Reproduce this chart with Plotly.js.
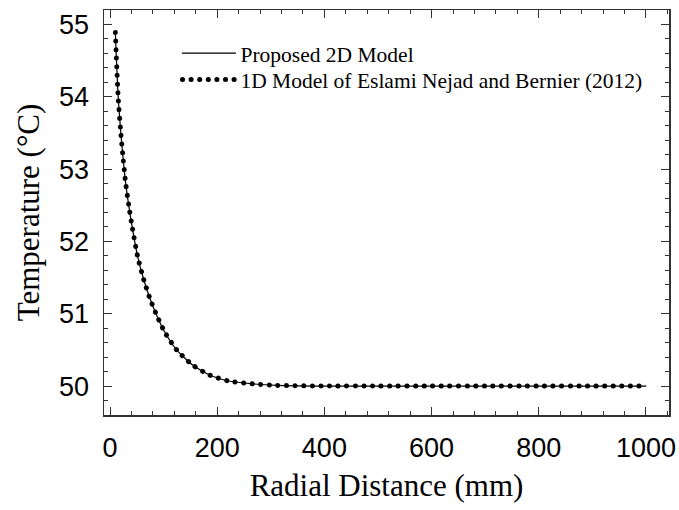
<!DOCTYPE html>
<html>
<head>
<meta charset="utf-8">
<script src="https://cdn.plot.ly/plotly-3.0.1.min.js"></script>
<style>
  html, body { margin: 0; padding: 0; background: #fff; }
  #chart { width: 679px; height: 510px; }
  .js-line { stroke-linecap: round !important; }
</style>
</head>
<body>
<div id="chart"></div>
<script>
// Radial distance (mm)
const radius2D = [10, 11.8, 15.5, 20.5, 24.8, 29.3, 34.9, 40.5, 51, 63.4, 74.6, 87.1, 102.6, 124.4, 154.3, 186.6, 220.7, 267, 311, 400, 500, 600, 700, 800, 900, 1000];
// Temperature (°C), proposed 2D model
const temp2D = [54.89, 54.55, 53.96, 53.47, 53.12, 52.80, 52.50, 52.24, 51.81, 51.46, 51.21, 50.98, 50.74, 50.50, 50.29, 50.15, 50.07, 50.03, 50.01, 50.0, 50.0, 50.0, 50.0, 50.0, 50.0, 50.0];
// 1D model of Eslami Nejad and Bernier (2012)
const radius1D = [10, 11.8, 15.5, 20.5, 24.8, 29.3, 34.9, 40.5, 51, 63.4, 74.6, 87.1, 102.6, 124.4, 154.3, 186.6, 220.7, 267, 311, 400, 500, 600, 700, 800, 900, 1000];
const temp1D = [54.89, 54.55, 53.96, 53.47, 53.12, 52.80, 52.50, 52.24, 51.81, 51.46, 51.21, 50.98, 50.74, 50.50, 50.29, 50.15, 50.07, 50.03, 50.01, 50.0, 50.0, 50.0, 50.0, 50.0, 50.0, 50.0];

const seriesNames = ['Proposed 2D Model', '1D Model of Eslami Nejad and Bernier (2012)'];
const xTicks = [0, 200, 400, 600, 800, 1000];
const yTicks = [50, 51, 52, 53, 54, 55];

const traces = [
  {
    x: radius2D, y: temp2D, name: seriesNames[0], type: 'scatter', mode: 'lines', legend: 'legend',
    line: { color: '#000', width: 1.2, shape: 'spline', smoothing: 0.6 }
  },
  {
    x: radius1D, y: temp1D, name: seriesNames[1], type: 'scatter', mode: 'lines', legend: 'legend2',
    line: { color: '#000', width: 5, dash: '0.1px,8.5px', shape: 'spline', smoothing: 0.6 }
  }
];

const axisCommon = {
  showline: true, linecolor: '#333', linewidth: 1.5, mirror: 'allticks',
  ticks: 'inside', ticklen: 8, tickwidth: 1, tickcolor: '#333',
  showgrid: false, zeroline: false,
  tickfont: { family: 'Liberation Sans, Arial, sans-serif', size: 27, color: '#000' }
};

const legendCommon = {
  xanchor: 'left', yanchor: 'top',
  bgcolor: 'rgba(0,0,0,0)', borderwidth: 0,
  font: { family: 'Liberation Serif, Times New Roman, serif', size: 21.5, color: '#000' },
  itemwidth: 53
};

const layout = {
  width: 679, height: 510,
  margin: { l: 104, r: 10, t: 10, b: 95 },
  paper_bgcolor: '#fff', plot_bgcolor: '#fff',
  showlegend: true,
  legend: Object.assign({}, legendCommon, { x: 0.13, y: 0.944 }),
  legend2: Object.assign({}, legendCommon, { x: 0.13, y: 0.879 }),
  xaxis: Object.assign({}, axisCommon, {
    range: [-11.2, 1043], tickvals: xTicks, ticktext: xTicks.map(String),
    ticklabelstandoff: 8,
    minor: { dtick: 40, tick0: 0, ticks: 'inside', ticklen: 4, tickcolor: '#333', tickwidth: 1, showgrid: false },
    title: { text: 'Radial Distance (mm)', standoff: 12,
      font: { family: 'Liberation Serif, Times New Roman, serif', size: 31, color: '#000' } }
  }),
  yaxis: Object.assign({}, axisCommon, {
    range: [49.6, 55.2], tickvals: yTicks, ticktext: yTicks.map(String),
    ticklabelstandoff: 8,
    minor: { dtick: 0.2, tick0: 50, ticks: 'inside', ticklen: 4, tickcolor: '#333', tickwidth: 1, showgrid: false },
    title: { text: 'Temperature (°C)', standoff: 10,
      font: { family: 'Liberation Serif, Times New Roman, serif', size: 31, color: '#000' } }
  })
};

Plotly.newPlot('chart', traces, layout, { staticPlot: true, displayModeBar: false });
</script>
</body>
</html>
